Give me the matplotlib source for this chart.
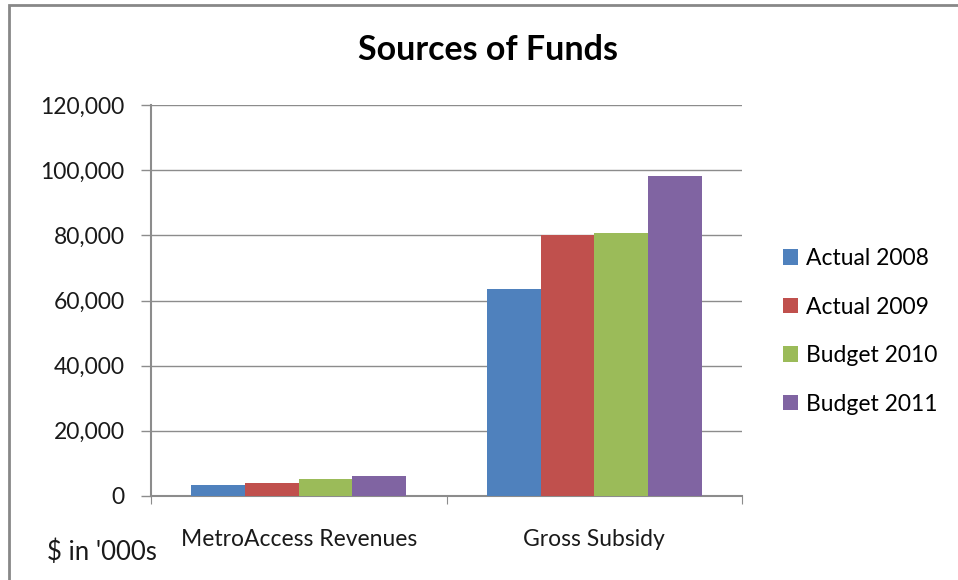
import numpy as np
import matplotlib.pyplot as plt
from matplotlib.patches import Rectangle
from matplotlib.ticker import FuncFormatter

# Sources of funds, $ in thousands
categories = ["MetroAccess Revenues", "Gross Subsidy"]
series = ["Actual 2008", "Actual 2009", "Budget 2010", "Budget 2011"]
actual_2008 = [3300, 63500]
actual_2009 = [4000, 80000]
budget_2010 = [5100, 80800]
budget_2011 = [6000, 98300]
values = [actual_2008, actual_2009, budget_2010, budget_2011]
colors = ["#4F81BD", "#C0504D", "#9BBB59", "#8064A2"]

plt.rcParams['font.family'] = ['Lato', 'DejaVu Sans']
GRID = "#8c8c8c"
TXT = "#1a1a1a"

fig = plt.figure(figsize=(9.58, 5.8), dpi=100)
# chart area border
fig.patches.append(Rectangle((9 / 958, -0.1), 1.1, 1 - 5 / 580 + 0.1,
                             transform=fig.transFigure, fill=False,
                             edgecolor="#888888", linewidth=2))

ax = fig.add_axes([151 / 958, 1 - 496 / 580, (742 - 151) / 958, (496 - 105) / 580])

x = np.arange(len(categories))
width = 1 / 5.5
for i, (name, vals) in enumerate(zip(series, values)):
    ax.bar(x + (i - 1.5) * width, vals, width, color=colors[i], label=name,
           zorder=3)

ax.set_xlim(-0.5, len(categories) - 0.5)
ax.set_ylim(0, 120000)
ax.set_yticks(np.arange(0, 120001, 20000))
ax.yaxis.set_major_formatter(FuncFormatter(lambda v, p: f"{int(v):,}"))
ax.grid(axis="y", color=GRID, linewidth=1, zorder=0)

ax.set_xticks([-0.5, 0.5, 1.5])
ax.set_xticklabels([])
ax.set_xticks(x, minor=True)
ax.set_xticklabels(categories, minor=True)
ax.tick_params(axis="x", which="major", length=6, color=GRID, direction="out")
ax.tick_params(axis="x", which="minor", length=0, pad=24, labelsize=16.5,
               labelcolor=TXT)
ax.tick_params(axis="y", length=7, color=GRID, width=1, pad=12,
               labelsize=16.5, labelcolor=TXT)

for side in ["top", "right"]:
    ax.spines[side].set_visible(False)
ax.spines["left"].set_color(GRID)
ax.spines["bottom"].set_color(GRID)
ax.spines["left"].set_linewidth(1.5)
ax.spines["bottom"].set_linewidth(1.5)

fig.text(488 / 958, 1 - 50 / 580, "Sources of Funds", ha="center", va="center",
         fontsize=24.5, fontweight="bold", color="#000000")
fig.text(47 / 958, 1 - 552 / 580, "$ in '000s", ha="left", va="center",
         fontsize=18.5, color=TXT)

ax.legend(loc="upper left", bbox_to_anchor=(774 / 958, 1 - 239 / 580),
          bbox_transform=fig.transFigure, frameon=False, fontsize=16.5,
          handlelength=0.65, handleheight=0.65, handletextpad=0.35,
          labelspacing=1.2, borderaxespad=0)

fig.savefig("out.png", dpi=100)
